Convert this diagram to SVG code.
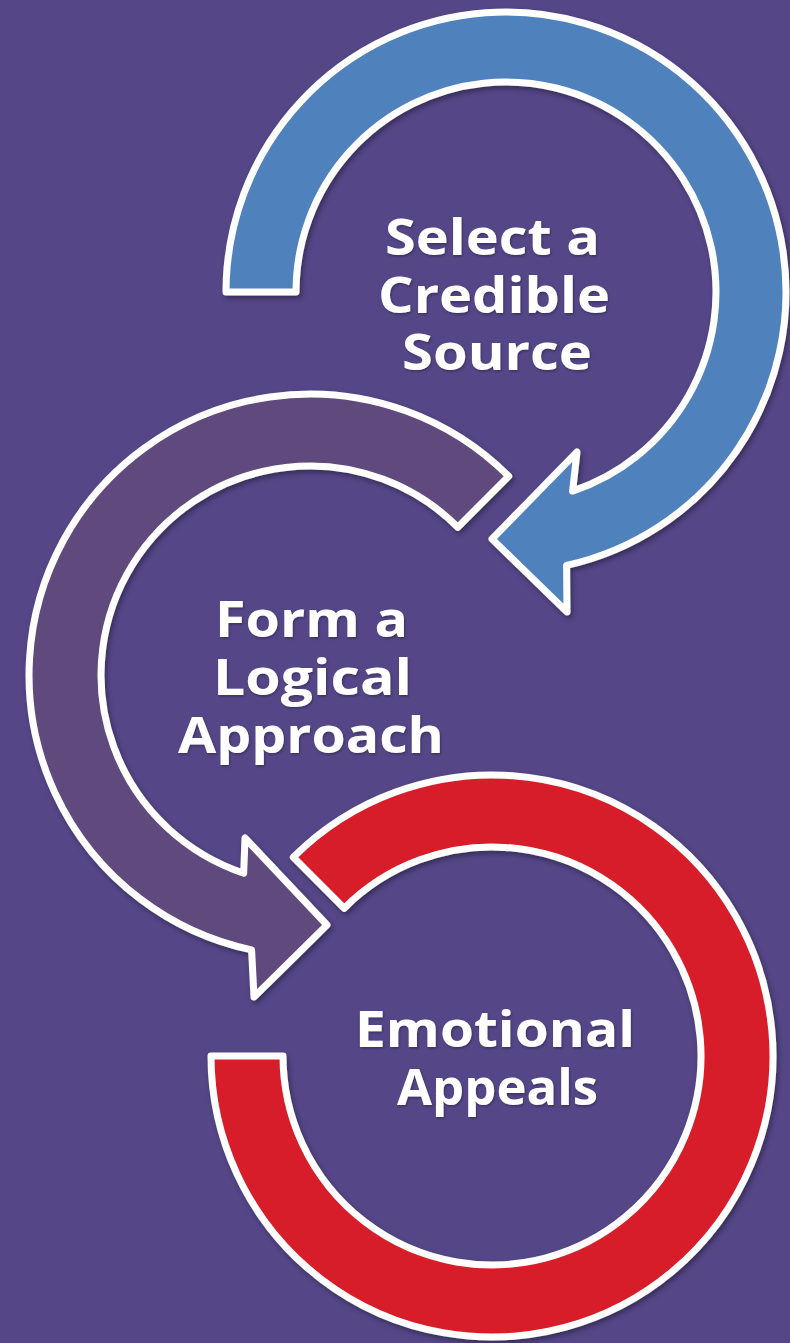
<svg xmlns="http://www.w3.org/2000/svg" width="790" height="1343" viewBox="0 0 790 1343">
<defs>
<filter id="sh" x="-10%" y="-10%" width="120%" height="120%">
<feDropShadow dx="2" dy="3" stdDeviation="2.5" flood-color="#000" flood-opacity="0.35"/>
</filter>
<filter id="tsh" x="-10%" y="-10%" width="120%" height="130%">
<feDropShadow dx="1" dy="1.5" stdDeviation="1" flood-color="#000" flood-opacity="0.3"/>
</filter>
</defs>
<style>
.arc{stroke:#FFFFFF;stroke-width:7;stroke-linejoin:round;filter:url(#sh)}
.lbl{font-family:"Open Sans","Liberation Sans",sans-serif;font-weight:700;font-size:51px;fill:#FFFFFF;text-anchor:middle;filter:url(#tsh)}
</style>
<rect x="0" y="0" width="790" height="1343" fill="#544687"/>
<g id="node-credible">
<path class="arc" fill="#4F81BD" d="M 226 292 A 280 280 0 1 1 566.6 565.4 L 567 612 L 492 539 L 577 452 L 572.6 491.1 A 210 210 0 1 0 296 292 Z"/>
<text class="lbl" x="492.5" y="255" textLength="215" lengthAdjust="spacingAndGlyphs">Select a</text>
<text class="lbl" x="494" y="313" textLength="232" lengthAdjust="spacingAndGlyphs">Credible</text>
<text class="lbl" x="497" y="370" textLength="190" lengthAdjust="spacingAndGlyphs">Source</text>
</g>
<g id="node-logical">
<path class="arc" fill="#604A7B" d="M 508.7 476.3 A 281 281 0 1 0 251.6 949.9 L 254 997 L 327 925 L 245 838 L 243.7 873.2 A 209 209 0 1 1 457.8 527.2 Z"/>
<text class="lbl" x="311.5" y="637" textLength="193" lengthAdjust="spacingAndGlyphs">Form a</text>
<text class="lbl" x="312.5" y="695" textLength="199" lengthAdjust="spacingAndGlyphs">Logical</text>
<text class="lbl" x="311" y="753" textLength="266" lengthAdjust="spacingAndGlyphs">Approach</text>
</g>
<g id="node-emotional">
<path class="arc" fill="#D71F2B" d="M 293.3 857.3 A 281 281 0 1 1 211 1056 L 283 1056 A 209 209 0 1 0 344.2 908.2 Z"/>
<text class="lbl" x="495" y="1047" textLength="280" lengthAdjust="spacingAndGlyphs">Emotional</text>
<text class="lbl" x="497.5" y="1105" textLength="201" lengthAdjust="spacingAndGlyphs">Appeals</text>
</g>
<g id="connectors"/>
</svg>
